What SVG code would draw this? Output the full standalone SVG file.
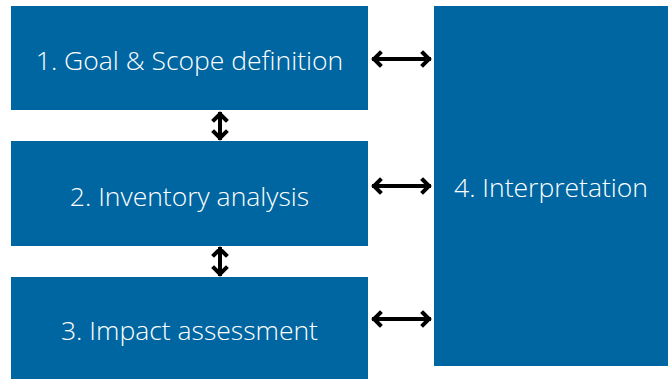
<svg xmlns="http://www.w3.org/2000/svg" width="668" height="379" viewBox="0 0 668 379">
<style>
.box{fill:#0066A1}
.lbl{fill:#ffffff;font-family:"Open Sans","Liberation Sans",sans-serif;font-weight:300;font-size:26.5px;text-anchor:middle}
.arr{fill:none;stroke:#000;stroke-width:4;stroke-linecap:square;stroke-linejoin:miter}
</style>
<rect width="668" height="379" fill="#ffffff"/>
<g id="node1"><rect class="box" x="11" y="6" width="357" height="104"/><text class="lbl" x="189.5" y="70">1. Goal &amp; Scope definition</text></g>
<g id="node2"><rect class="box" x="11" y="141" width="357" height="105"/><text class="lbl" x="189.5" y="206">2. Inventory analysis</text></g>
<g id="node3"><rect class="box" x="11" y="277" width="357" height="102"/><text class="lbl" x="189.5" y="340">3. Impact assessment</text></g>
<g id="node4"><rect class="box" x="434" y="6" width="234" height="360"/><text class="lbl" x="551" y="197">4. Interpretation</text></g>
<g id="connectors">
<path class="arr" d="M374 59H429M380 53L374 59L380 65M423 53L429 59L423 65"/>
<path class="arr" d="M374 186H429M380 180L374 186L380 192M423 180L429 186L423 192"/>
<path class="arr" d="M374 319H429M380 313L374 319L380 325M423 313L429 319L423 325"/>
<path class="arr" d="M220 114V138M214 120L220 114L226 120M214 132L220 138L226 132"/>
<path class="arr" d="M220 249V274M214 255L220 249L226 255M214 268L220 274L226 268"/>
</g>
</svg>
